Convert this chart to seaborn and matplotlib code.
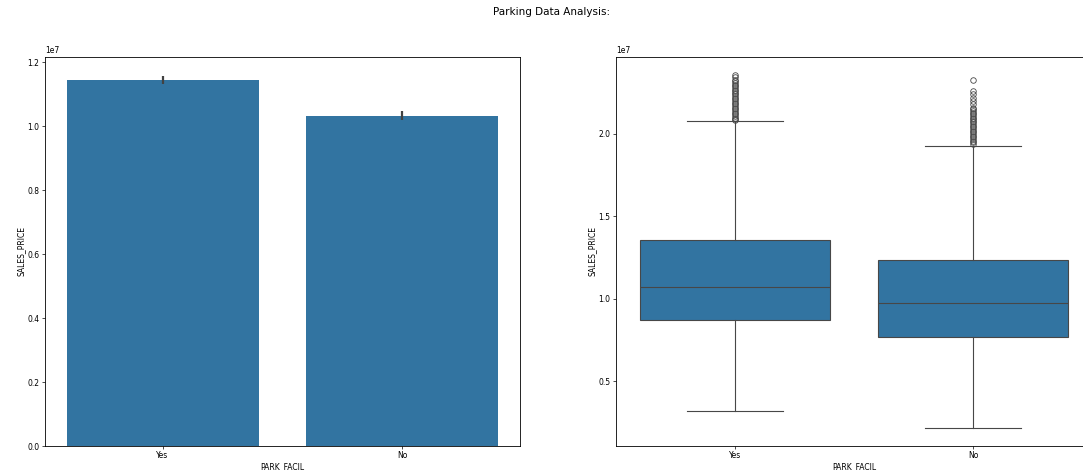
import matplotlib
matplotlib.use("Agg")
import matplotlib.pyplot as plt
import seaborn as sns

# --- data ---
park_facil = ["Yes", "No"]

# bar chart: mean SALES_PRICE and its 95% CI
mean_price = [1.144e7, 1.033e7]
ci_low = [1.130e7, 1.019e7]
ci_high = [1.158e7, 1.047e7]

# box plot summary per category
whis_low = [0.317e7, 0.213e7]
q1 = [0.872e7, 0.768e7]
median = [1.073e7, 0.976e7]
q3 = [1.354e7, 1.232e7]
whis_high = [2.079e7, 1.927e7]
fliers_yes = [2.085e7, 2.09e7, 2.10e7, 2.11e7, 2.12e7, 2.13e7, 2.14e7, 2.15e7,
              2.16e7, 2.17e7, 2.18e7, 2.19e7, 2.20e7, 2.21e7, 2.22e7, 2.23e7,
              2.24e7, 2.25e7, 2.26e7, 2.27e7, 2.28e7, 2.29e7, 2.30e7, 2.31e7,
              2.32e7, 2.33e7, 2.345e7, 2.36e7]
fliers_no = [1.94e7, 1.95e7, 1.96e7, 1.97e7, 1.98e7, 1.99e7, 2.00e7, 2.01e7,
             2.02e7, 2.03e7, 2.04e7, 2.05e7, 2.06e7, 2.07e7, 2.08e7, 2.09e7,
             2.10e7, 2.11e7, 2.12e7, 2.13e7, 2.14e7, 2.15e7, 2.16e7, 2.18e7,
             2.20e7, 2.22e7, 2.24e7, 2.26e7, 2.33e7]

fs = 5.5
plt.rcParams.update({
    "font.size": fs,
    "axes.linewidth": 0.6,
    "xtick.major.size": 2,
    "ytick.major.size": 2,
    "xtick.major.width": 0.5,
    "ytick.major.width": 0.5,
    "xtick.major.pad": 1.5,
    "ytick.major.pad": 2,
    "axes.labelpad": 1.5,
})

fig = plt.figure(figsize=(10.83, 4.70), dpi=100)
fig.suptitle("Parking Data Analysis:", fontsize=7.5, x=0.509, y=0.974, va="center")

ax1 = fig.add_axes([45 / 1083, 24 / 470, 475 / 1083, 389 / 470])
ax2 = fig.add_axes([616 / 1083, 24 / 470, 476 / 1083, 389 / 470])

# left: bar chart
sns.barplot(x=park_facil, y=mean_price, ax=ax1)
ax1.vlines(range(len(park_facil)), ci_low, ci_high, color=".26", lw=1.6)
ax1.set_xlabel("PARK_FACIL")
ax1.set_ylabel("SALES_PRICE")

# right: box plot built from the summary stats
stats = []
for i, name in enumerate(park_facil):
    stats.append({
        "label": name,
        "whislo": whis_low[i],
        "q1": q1[i],
        "med": median[i],
        "q3": q3[i],
        "whishi": whis_high[i],
        "fliers": fliers_yes if name == "Yes" else fliers_no,
    })

line_col = "0.28"
ax2.bxp(
    stats,
    positions=[0, 1],
    widths=0.8,
    capwidths=0.4,
    patch_artist=True,
    boxprops=dict(facecolor="#3274a1", edgecolor=line_col, linewidth=0.8),
    medianprops=dict(color=line_col, linewidth=0.8),
    whiskerprops=dict(color=line_col, linewidth=0.8),
    capprops=dict(color=line_col, linewidth=0.8),
    flierprops=dict(marker="o", markerfacecolor="none", markeredgecolor=line_col,
                    markersize=4, markeredgewidth=0.6),
)
ax2.set_xlim(-0.5, 1.5)
ax2.set_xlabel("PARK_FACIL")
ax2.set_ylabel("SALES_PRICE")

fig.savefig("out.png", dpi=100)
